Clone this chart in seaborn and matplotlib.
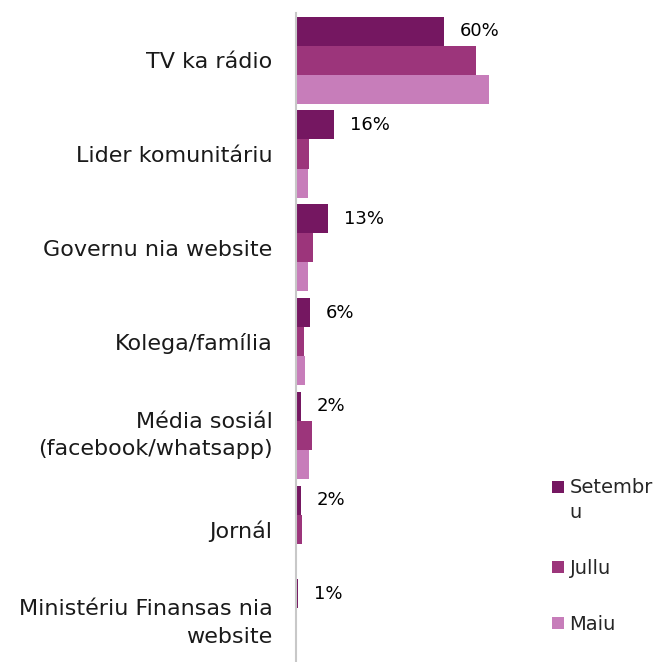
import matplotlib
matplotlib.use('Agg')
import pandas as pd
import matplotlib.pyplot as plt
import seaborn as sns

kategoria = ['TV ka rádio', 'Lider komunitáriu', 'Governu nia website',
             'Kolega/família', 'Média sosiál\n(facebook/whatsapp)', 'Jornál',
             'Ministériu Finansas nia\nwebsite']
setembru = [60, 15.3, 12.9, 5.7, 2.0, 1.9, 0.8]
jullu = [73, 5.1, 6.9, 3.1, 6.4, 2.6, 0]
maiu = [78.3, 5.0, 4.7, 3.7, 5.2, 0, 0]
label_setembru = ['60%', '16%', '13%', '6%', '2%', '2%', '1%']
series = ['Setembr\nu', 'Jullu', 'Maiu']
cores = ['#751761', '#9C357B', '#C77DBA']

df = pd.DataFrame({
    'kategoria': kategoria * 3,
    'valor': setembru + jullu + maiu,
    'serie': [series[0]] * 7 + [series[1]] * 7 + [series[2]] * 7,
})

sns.set_style('white')
plt.rcParams['font.family'] = ['DejaVu Sans']

fig = plt.figure(figsize=(6.59, 6.62), dpi=100)
ax = fig.add_axes([296 / 659, -0.012, 247 / 659, 0.992])

sns.barplot(data=df, y='kategoria', x='valor', hue='serie', orient='h',
            palette=cores, width=0.93, saturation=1, linewidth=0, ax=ax,
            legend=True)

ax.bar_label(ax.containers[0], labels=label_setembru, padding=11.5,
             fontsize=13, color='black')

ax.set_xlim(0, 100)
ax.set_xlabel('')
ax.set_ylabel('')
ax.set_xticks([])
ax.tick_params(axis='y', length=0, pad=17, labelsize=16, labelcolor='#1a1a1a')
for t in ax.get_yticklabels():
    t.set_linespacing(1.45)
    if '\n' in t.get_text():
        t.set_va('center')
for s in ['top', 'right', 'bottom']:
    ax.spines[s].set_visible(False)
ax.spines['left'].set_color('#c8c8c8')
ax.spines['left'].set_linewidth(1.5)

leg = ax.legend(loc='upper left', bbox_to_anchor=(552 / 659, 1 - 478 / 662),
                bbox_transform=fig.transFigure, frameon=False, fontsize=14,
                handlelength=0.6, handleheight=0.6, handletextpad=0.3,
                labelspacing=1.9, borderpad=0, borderaxespad=0)
for t in leg.get_texts():
    t.set_linespacing(1.4)
# Setembru marker sits on the first line of its wrapped label
h = leg.legend_handles[0]
h.set_y(h.get_y() + 9.7)

fig.savefig('out.png', dpi=100)
